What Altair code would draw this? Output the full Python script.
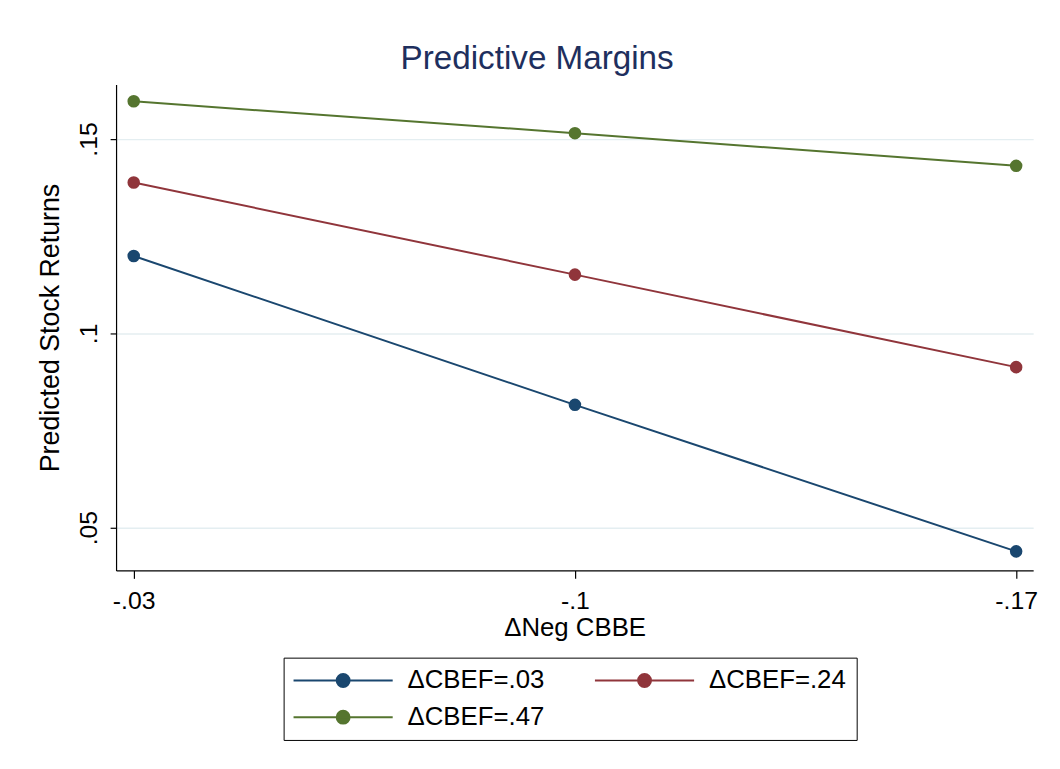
import altair as alt
import pandas as pd

x_values = [-0.03, -0.10, -0.17]
series_names = ["ΔCBEF=.03", "ΔCBEF=.24", "ΔCBEF=.47"]
y_cbef_03 = [0.1199, 0.0816, 0.0439]
y_cbef_24 = [0.1388, 0.1151, 0.0913]
y_cbef_47 = [0.1597, 0.1515, 0.1431]
colors = ["#1a476f", "#90353b", "#55752f"]

rows = []
for name, ys in zip(series_names, [y_cbef_03, y_cbef_24, y_cbef_47]):
    for xv, yv in zip(x_values, ys):
        rows.append({"x": xv, "y": yv, "series": name})
df = pd.DataFrame(rows)

FONT = "Liberation Sans"

# legend symbol: line with a dot in the middle (units scaled by sqrt(size)/2 = 7px)
sym_path = ("M-1.857,0H12.43 M6.22,0 A0.93,0.93 0 1,1 4.36,0 "
            "A0.93,0.93 0 1,1 6.22,0 Z")

color = alt.Color(
    "series:N",
    scale=alt.Scale(domain=series_names, range=colors),
    legend=alt.Legend(
        title=None,
        orient="none",
        direction="horizontal",
        legendX=169,
        legendY=578,
        columns=2,
        symbolType=sym_path,
        symbolSize=196,
        symbolStrokeWidth=2,
        symbolOpacity=1,
        labelFontSize=26,
        labelFont=FONT,
        labelColor="black",
        labelOffset=89,
        columnPadding=46,
        rowPadding=11,
        padding=10,
        strokeColor="black",
    ),
)

x = alt.X(
    "x:Q",
    scale=alt.Scale(domain=[-0.1727, -0.0272], reverse=True, nice=False, zero=False),
    axis=alt.Axis(
        values=x_values,
        labelExpr="replace(toString(datum.value), '0.', '.')",
        title="ΔNeg CBBE",
        titleFontSize=26,
        grid=False,
        tickSize=8,
        labelPadding=10,
        titlePadding=2,
    ),
)
y = alt.Y(
    "y:Q",
    scale=alt.Scale(domain=[0.0390, 0.1640], nice=False, zero=False),
    axis=alt.Axis(
        values=[0.05, 0.10, 0.15],
        labelExpr="replace(toString(datum.value), '0.', '.')",
        title="Predicted Stock Returns",
        titleFontSize=27,
        labelAngle=-90,
        labelAlign="center",
        labelBaseline="bottom",
        grid=True,
        gridColor="#e4eef1",
        gridWidth=1.5,
        tickSize=6,
        labelPadding=9,
        titlePadding=12,
    ),
)

base = alt.Chart(df)
lines = base.mark_line(strokeWidth=2).encode(x=x, y=y, color=color)
points = base.mark_point(filled=True, size=160, opacity=1).encode(x=x, y=y, color=color)

chart = (
    alt.layer(lines, points)
    .properties(
        width=925,
        height=490,
        background="white",
        title=alt.Title("Predictive Margins", fontSize=33.5, font=FONT, fontWeight="normal",
                        color="#1e2f5e", anchor="middle", frame="bounds", offset=8),
        padding={"left": 29, "top": 31, "right": 14, "bottom": 20},
    )
    .configure_view(stroke=None)
    .configure_axis(
        labelFont=FONT, titleFont=FONT, labelFontSize=25,
        labelColor="black", titleColor="black", titleFontWeight="normal",
        domainColor="black", tickColor="black", domainWidth=1.2, tickWidth=1.2,
    )
)

chart.save("out.html", embed_options={"renderer": "svg", "actions": False})
